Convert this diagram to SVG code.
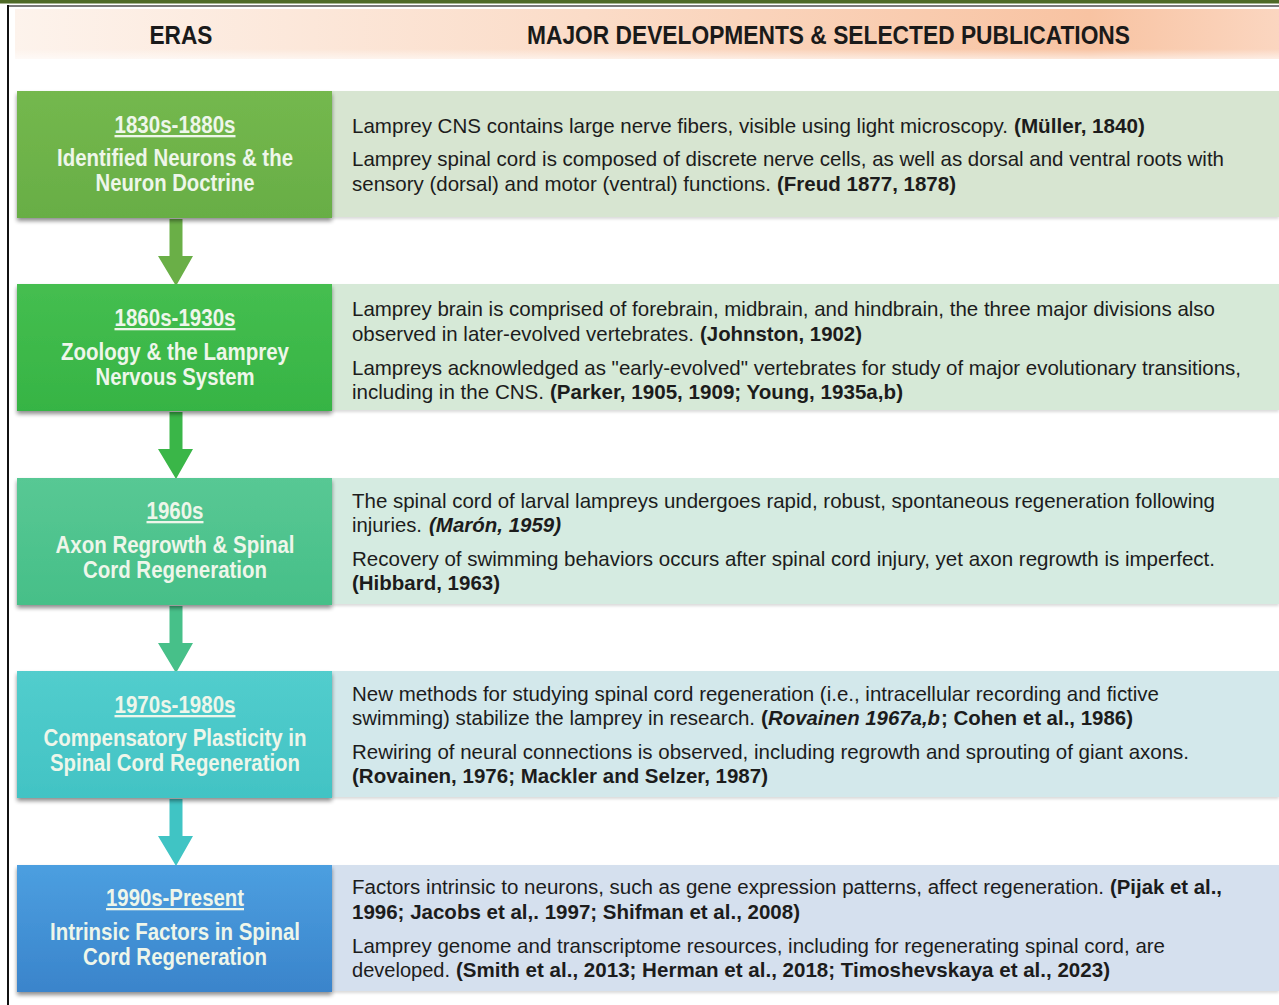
<svg xmlns="http://www.w3.org/2000/svg" width="1279" height="1005" viewBox="0 0 1279 1005">
  <style>
    .era { font-family: "Liberation Sans", Arial, sans-serif; font-weight: bold; font-size: 23px; fill: #eef6ea; text-anchor: middle; }
    .yr { text-decoration: underline; }
    .body { font-family: "Liberation Sans", Arial, sans-serif; font-size: 21px; fill: #1c1c1c; }
    .tight { font-size: 19.5px; }
    .b { font-weight: bold; }
    .bi { font-weight: bold; font-style: italic; }
    .hdr { font-family: "Liberation Sans", Arial, sans-serif; font-weight: bold; font-size: 25px; fill: #1a1a1a; }
  </style>
  <defs>
    <linearGradient id="hdrGrad" x1="0" y1="0" x2="1" y2="0">
      <stop offset="0" stop-color="#fdf3ec"/>
      <stop offset="0.45" stop-color="#fbdcc8"/>
      <stop offset="0.85" stop-color="#f8c3a2"/>
      <stop offset="1" stop-color="#fbd6c0"/>
    </linearGradient>
    <linearGradient id="hdrFade" x1="0" y1="0" x2="0" y2="1">
      <stop offset="0" stop-color="#fff" stop-opacity="0"/>
      <stop offset="0.8" stop-color="#fff" stop-opacity="0"/>
      <stop offset="1" stop-color="#fff" stop-opacity="0.6"/>
    </linearGradient>
    <linearGradient id="g1" x1="0" y1="0" x2="0" y2="1">
      <stop offset="0" stop-color="#74b84e"/><stop offset="1" stop-color="#68ae45"/>
    </linearGradient>
    <linearGradient id="g2" x1="0" y1="0" x2="0" y2="1">
      <stop offset="0" stop-color="#45be50"/><stop offset="1" stop-color="#36b444"/>
    </linearGradient>
    <linearGradient id="g3" x1="0" y1="0" x2="0" y2="1">
      <stop offset="0" stop-color="#58c894"/><stop offset="1" stop-color="#46bf88"/>
    </linearGradient>
    <linearGradient id="g4" x1="0" y1="0" x2="0" y2="1">
      <stop offset="0" stop-color="#52cdcd"/><stop offset="1" stop-color="#42c3c4"/>
    </linearGradient>
    <linearGradient id="g5" x1="0" y1="0" x2="0" y2="1">
      <stop offset="0" stop-color="#4c9fe0"/><stop offset="1" stop-color="#3a84cb"/>
    </linearGradient>
    <filter id="shadow" x="-5%" y="-10%" width="110%" height="125%">
      <feGaussianBlur in="SourceAlpha" stdDeviation="2"/>
      <feOffset dx="0" dy="3" result="o"/>
      <feComponentTransfer><feFuncA type="linear" slope="0.45"/></feComponentTransfer>
      <feMerge><feMergeNode/><feMergeNode in="SourceGraphic"/></feMerge>
    </filter>
    <filter id="soft" x="-2%" y="-10%" width="104%" height="125%">
      <feGaussianBlur in="SourceAlpha" stdDeviation="1.5"/>
      <feOffset dx="0" dy="2" result="o"/>
      <feComponentTransfer><feFuncA type="linear" slope="0.15"/></feComponentTransfer>
      <feMerge><feMergeNode/><feMergeNode in="SourceGraphic"/></feMerge>
    </filter>
  </defs>

  <rect width="1279" height="1005" fill="#ffffff"/>

  <!-- page frame -->
  <rect x="0" y="0" width="1279" height="3.5" fill="#4e6a27"/>
  <rect x="7" y="5" width="1272" height="2" fill="#7a7a7a"/>
  <rect x="7" y="5" width="2" height="1000" fill="#111111"/>

  <!-- column header -->
  <g id="header">
    <rect x="15" y="9" width="1264" height="50" fill="url(#hdrGrad)"/>
    <rect x="15" y="9" width="1264" height="50" fill="url(#hdrFade)"/>
    <text class="hdr" x="181" y="44" text-anchor="middle" textLength="63" lengthAdjust="spacingAndGlyphs">ERAS</text>
    <text class="hdr" x="527" y="44" textLength="603" lengthAdjust="spacingAndGlyphs">MAJOR DEVELOPMENTS &amp; SELECTED PUBLICATIONS</text>
  </g>

  <!-- connectors between eras -->
  <g id="connectors">
    <path id="arrow1" d="M169.5 219 H182.5 V256 H193 L176 286 L158 256 H169.5 Z" fill="#6aaf47"/>
    <path id="arrow2" d="M169.5 412 H182.5 V449 H193 L176 479 L158 449 H169.5 Z" fill="#3ab648"/>
    <path id="arrow3" d="M169.5 606 H182.5 V643 H193 L176 673 L158 643 H169.5 Z" fill="#47c089"/>
    <path id="arrow4" d="M169.5 799 H182.5 V836 H193 L176 866 L158 836 H169.5 Z" fill="#40c4c4"/>
  </g>

  <!-- era 1 -->
  <g id="era1">
    <rect x="332" y="91" width="947" height="126" fill="#d7e5d1" filter="url(#soft)"/>
    <rect x="17" y="91" width="315" height="127" fill="url(#g1)" filter="url(#shadow)"/>
    <text class="era yr" x="175" y="133" textLength="121" lengthAdjust="spacingAndGlyphs">1830s-1880s</text>
    <text class="era" x="175" y="166" textLength="236" lengthAdjust="spacingAndGlyphs">Identified Neurons &amp; the</text>
    <text class="era" x="175" y="191" textLength="159" lengthAdjust="spacingAndGlyphs">Neuron Doctrine</text>
    <text class="body" x="352" y="133" textLength="656" lengthAdjust="spacingAndGlyphs">Lamprey CNS contains large nerve fibers, visible using light microscopy.</text>
    <text class="body b" x="1014" y="133" textLength="131" lengthAdjust="spacingAndGlyphs">(Müller, 1840)</text>
    <text class="body" x="352" y="166" textLength="872" lengthAdjust="spacingAndGlyphs">Lamprey spinal cord is composed of discrete nerve cells, as well as dorsal and ventral roots with</text>
    <text class="body" x="352" y="191" textLength="419" lengthAdjust="spacingAndGlyphs">sensory (dorsal) and motor (ventral) functions.</text>
    <text class="body b" x="777" y="191" textLength="179" lengthAdjust="spacingAndGlyphs">(Freud 1877, 1878)</text>
  </g>

  <!-- era 2 -->
  <g id="era2">
    <rect x="332" y="284" width="947" height="126" fill="#d6e9d7" filter="url(#soft)"/>
    <rect x="17" y="284" width="315" height="127" fill="url(#g2)" filter="url(#shadow)"/>
    <text class="era yr" x="175" y="326" textLength="121" lengthAdjust="spacingAndGlyphs">1860s-1930s</text>
    <text class="era" x="175" y="360" textLength="228" lengthAdjust="spacingAndGlyphs">Zoology &amp; the Lamprey</text>
    <text class="era" x="175" y="385" textLength="159" lengthAdjust="spacingAndGlyphs">Nervous System</text>
    <text class="body" x="352" y="316" textLength="863" lengthAdjust="spacingAndGlyphs">Lamprey brain is comprised of forebrain, midbrain, and hindbrain, the three major divisions also</text>
    <text class="body" x="352" y="341" textLength="342" lengthAdjust="spacingAndGlyphs">observed in later-evolved vertebrates.</text>
    <text class="body b" x="700" y="341" textLength="162" lengthAdjust="spacingAndGlyphs">(Johnston, 1902)</text>
    <text class="body" x="352" y="375" textLength="889" lengthAdjust="spacingAndGlyphs">Lampreys acknowledged as "early-evolved" vertebrates for study of major evolutionary transitions,</text>
    <text class="body" x="352" y="399" textLength="192" lengthAdjust="spacingAndGlyphs">including in the CNS.</text>
    <text class="body b" x="550" y="399" textLength="353" lengthAdjust="spacingAndGlyphs">(Parker, 1905, 1909; Young, 1935a,b)</text>
  </g>

  <!-- era 3 -->
  <g id="era3">
    <rect x="332" y="478" width="947" height="126" fill="#d5ebe1" filter="url(#soft)"/>
    <rect x="17" y="478" width="315" height="127" fill="url(#g3)" filter="url(#shadow)"/>
    <text class="era yr" x="175" y="519" textLength="57" lengthAdjust="spacingAndGlyphs">1960s</text>
    <text class="era" x="175" y="553" textLength="239" lengthAdjust="spacingAndGlyphs">Axon Regrowth &amp; Spinal</text>
    <text class="era" x="175" y="578" textLength="184" lengthAdjust="spacingAndGlyphs">Cord Regeneration</text>
    <text class="body" x="352" y="508" textLength="863" lengthAdjust="spacingAndGlyphs">The spinal cord of larval lampreys undergoes rapid, robust, spontaneous regeneration following</text>
    <text class="body" x="352" y="532" textLength="70" lengthAdjust="spacingAndGlyphs">injuries.</text>
    <text class="body bi" x="429" y="532" textLength="132" lengthAdjust="spacingAndGlyphs">(Marón, 1959)</text>
    <text class="body" x="352" y="566" textLength="863" lengthAdjust="spacingAndGlyphs">Recovery of swimming behaviors occurs after spinal cord injury, yet axon regrowth is imperfect.</text>
    <text class="body b" x="352" y="590" textLength="148" lengthAdjust="spacingAndGlyphs">(Hibbard, 1963)</text>
  </g>

  <!-- era 4 -->
  <g id="era4">
    <rect x="332" y="671" width="947" height="126" fill="#d3e8eb" filter="url(#soft)"/>
    <rect x="17" y="671" width="315" height="127" fill="url(#g4)" filter="url(#shadow)"/>
    <text class="era yr" x="175" y="713" textLength="121" lengthAdjust="spacingAndGlyphs">1970s-1980s</text>
    <text class="era" x="175" y="746" textLength="263" lengthAdjust="spacingAndGlyphs">Compensatory Plasticity in</text>
    <text class="era" x="175" y="771" textLength="250" lengthAdjust="spacingAndGlyphs">Spinal Cord Regeneration</text>
    <text class="body" x="352" y="701" textLength="807" lengthAdjust="spacingAndGlyphs">New methods for studying spinal cord regeneration (i.e., intracellular recording and fictive</text>
    <text class="body tight" x="352" y="725" textLength="403" lengthAdjust="spacingAndGlyphs">swimming) stabilize the lamprey in research.</text>
    <text class="body b" x="761" y="725" textLength="7" lengthAdjust="spacingAndGlyphs">(</text>
    <text class="body bi" x="768" y="725" textLength="172" lengthAdjust="spacingAndGlyphs">Rovainen 1967a,b</text>
    <text class="body b" x="941" y="725" textLength="192" lengthAdjust="spacingAndGlyphs">; Cohen et al., 1986)</text>
    <text class="body" x="352" y="759" textLength="837" lengthAdjust="spacingAndGlyphs">Rewiring of neural connections is observed, including regrowth and sprouting of giant axons.</text>
    <text class="body b" x="352" y="783" textLength="416" lengthAdjust="spacingAndGlyphs">(Rovainen, 1976; Mackler and Selzer, 1987)</text>
  </g>

  <!-- era 5 -->
  <g id="era5">
    <rect x="332" y="865" width="947" height="126" fill="#d5e0ee" filter="url(#soft)"/>
    <rect x="17" y="865" width="315" height="127" fill="url(#g5)" filter="url(#shadow)"/>
    <text class="era yr" x="175" y="906" textLength="138" lengthAdjust="spacingAndGlyphs">1990s-Present</text>
    <text class="era" x="175" y="940" textLength="250" lengthAdjust="spacingAndGlyphs">Intrinsic Factors in Spinal</text>
    <text class="era" x="175" y="965" textLength="184" lengthAdjust="spacingAndGlyphs">Cord Regeneration</text>
    <text class="body tight" x="352" y="894" textLength="752" lengthAdjust="spacingAndGlyphs">Factors intrinsic to neurons, such as gene expression patterns, affect regeneration.</text>
    <text class="body b" x="1110" y="894" textLength="112" lengthAdjust="spacingAndGlyphs">(Pijak et al.,</text>
    <text class="body b" x="352" y="919" textLength="448" lengthAdjust="spacingAndGlyphs">1996; Jacobs et al,. 1997; Shifman et al., 2008)</text>
    <text class="body" x="352" y="953" textLength="813" lengthAdjust="spacingAndGlyphs">Lamprey genome and transcriptome resources, including for regenerating spinal cord, are</text>
    <text class="body" x="352" y="977" textLength="98" lengthAdjust="spacingAndGlyphs">developed.</text>
    <text class="body b" x="456" y="977" textLength="654" lengthAdjust="spacingAndGlyphs">(Smith et al., 2013; Herman et al., 2018; Timoshevskaya et al., 2023)</text>
  </g>
</svg>
